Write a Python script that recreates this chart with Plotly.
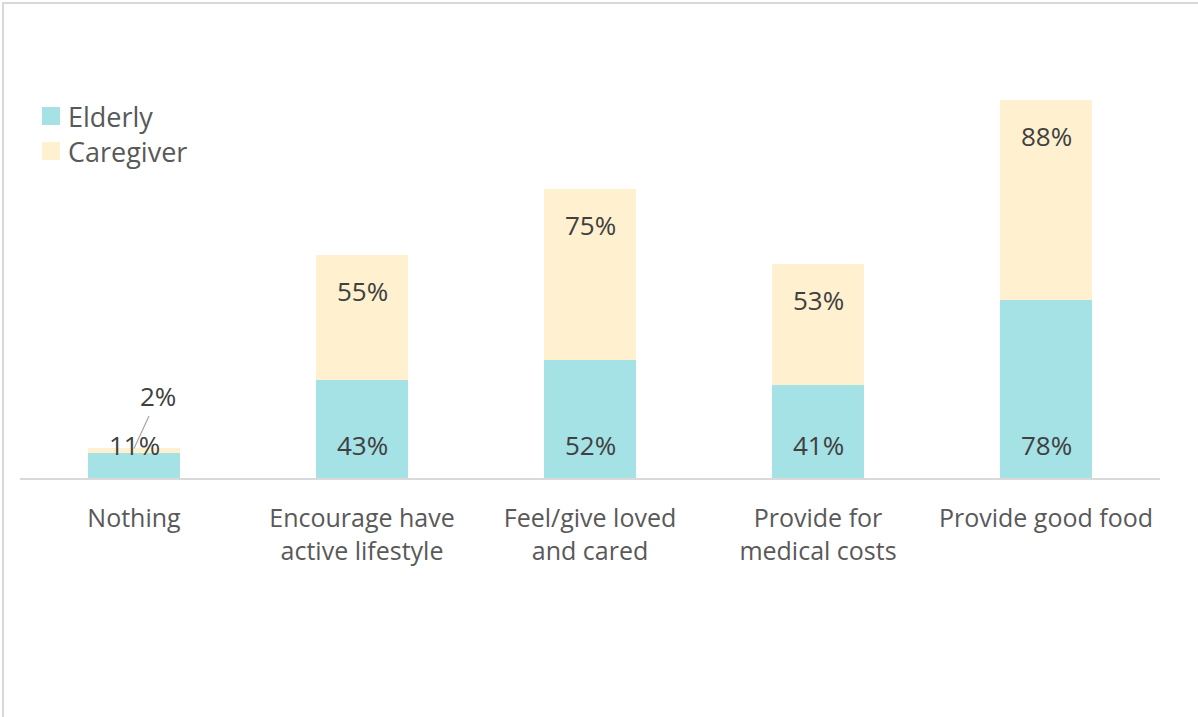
import plotly.graph_objects as go

categories = ["Nothing", "Encourage have<br>active lifestyle", "Feel/give loved<br>and cared",
              "Provide for<br>medical costs", "Provide good food"]
series_names = ["Elderly", "Caregiver"]
elderly = [11, 43, 52, 41, 78]
caregiver = [2, 55, 75, 53, 88]

C_ELD = "#A5E2E6"
C_CARE = "#FFF1CF"
colors = [C_ELD, C_CARE]
TXT = "#404040"
LBL = "#595959"
FONT = "Open Sans"

W, H = 1198, 717
ML, MR, MT, MB = 20, 38, 60, 239
plot_h = H - MT - MB
pw = W - ML - MR
px_per = 2.277
ymax = plot_h / px_per


def px_x(x):
    return (x - ML) / pw


def px_y(y):
    return (H - MB - y) / plot_h


fig = go.Figure()
fig.add_trace(go.Bar(name=series_names[0], x=categories, y=elderly, marker_color=C_ELD,
                     marker_line_width=0, hoverinfo="skip", showlegend=False))
fig.add_trace(go.Bar(name=series_names[1], x=categories, y=caregiver, marker_color=C_CARE,
                     marker_line_width=0, hoverinfo="skip", showlegend=False))

annotations = []
for i, (c, e, g) in enumerate(zip(categories, elderly, caregiver)):
    annotations.append(dict(x=c, y=0, text=f"{e}%", showarrow=False, yanchor="bottom",
                            yshift=13, font=dict(family=FONT, size=26, color=TXT)))
    if i == 0:
        annotations.append(dict(x=c, y=e + g, text=f"{g}%", showarrow=True, arrowhead=0,
                                arrowwidth=1.2, arrowcolor="#A6A6A6", ax=24, ay=-52,
                                font=dict(family=FONT, size=26, color=TXT)))
    else:
        annotations.append(dict(x=c, y=e + g, text=f"{g}%", showarrow=False, yanchor="top",
                                yshift=-16, font=dict(family=FONT, size=26, color=TXT)))

shapes = [dict(type="rect", xref="paper", yref="paper",
               x0=px_x(3), x1=px_x(1199), y0=px_y(800), y1=px_y(3),
               line=dict(color="#D9D9D9", width=2), fillcolor="rgba(0,0,0,0)", layer="below")]

# legend (drawn manually for exact swatch size)
for k, (nm, col) in enumerate(zip(series_names, colors)):
    top = 107 + 35 * k
    shapes.append(dict(type="rect", xref="paper", yref="paper",
                       x0=px_x(42), x1=px_x(60), y0=px_y(top + 18), y1=px_y(top),
                       line=dict(width=0), fillcolor=col))
    annotations.append(dict(xref="paper", yref="paper", x=px_x(66), y=px_y(top + 9),
                            text=nm, showarrow=False, xanchor="left", yanchor="middle",
                            font=dict(family=FONT, size=27, color=LBL)))

fig.update_layout(
    barmode="stack", bargap=0.6,
    width=W, height=H,
    margin=dict(l=ML, r=MR, t=MT, b=MB, autoexpand=False),
    plot_bgcolor="white", paper_bgcolor="white",
    font=dict(family=FONT, size=25, color=LBL),
    showlegend=False,
    xaxis=dict(showgrid=False, showline=True, linecolor="#D9D9D9", linewidth=2,
               ticks="", ticklabelstandoff=17,
               tickfont=dict(family=FONT, size=25, color=LBL), fixedrange=True),
    yaxis=dict(range=[0, ymax], visible=False, fixedrange=True),
    annotations=annotations,
    shapes=shapes,
)

fig.write_html("out.html", config={"displayModeBar": False},
               post_script="document.body.style.margin='0';")
